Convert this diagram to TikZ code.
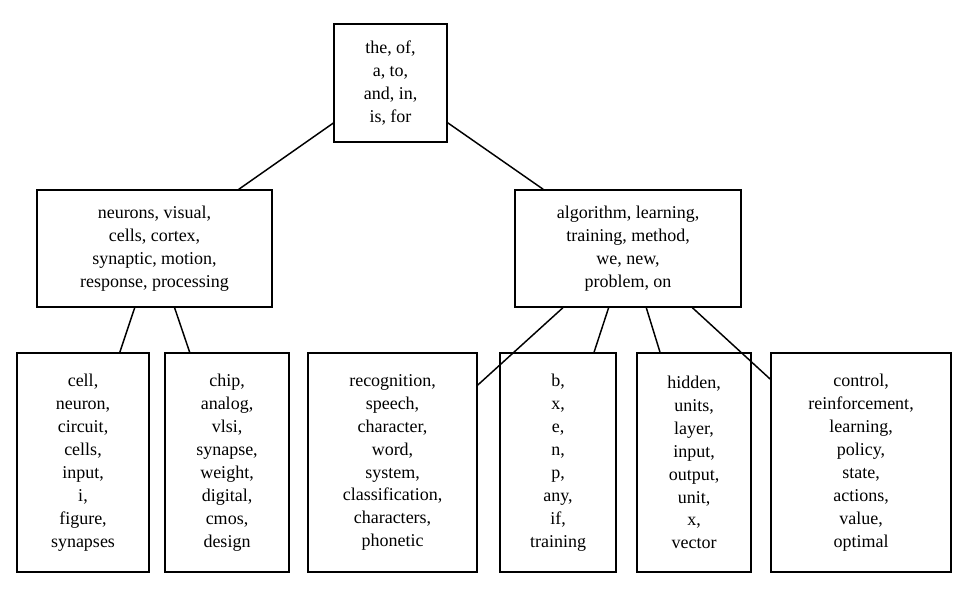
\documentclass[tikz,border=0pt]{standalone}
\usepackage{fontspec}
\setmainfont{Liberation Serif}
\begin{document}
\begin{tikzpicture}[x=0.75pt,y=-0.75pt,
  box/.style={draw,line width=1.1pt,align=center,inner sep=0pt,font=\fontsize{13.5}{17.2}\selectfont},
  edge/.style={line width=1.1pt}]
\useasboundingbox (0,0) rectangle (970,603);
\newcommand\bx[6]{\node[box,minimum width=#4*0.75pt,minimum height=#5*0.75pt] (#1) at (#2,#3) {#6};}
\bx{r}{390.5}{83}{113}{118}{the, of,\\a, to,\\and, in,\\is, for}
\bx{lm}{154.5}{248.5}{235}{117}{neurons, visual,\\cells, cortex,\\synaptic, motion,\\response, processing}
\bx{rm}{628}{248.5}{226}{117}{algorithm, learning,\\training, method,\\we, new,\\problem, on}
\bx{a}{83}{462.5}{132}{219}{cell,\\neuron,\\circuit,\\cells,\\input,\\i,\\figure,\\synapses}
\bx{b}{227}{462.5}{124}{219}{chip,\\analog,\\vlsi,\\synapse,\\weight,\\digital,\\cmos,\\design}
\bx{c}{392.5}{462.5}{169}{219}{recognition,\\speech,\\character,\\word,\\system,\\classification,\\characters,\\phonetic}
\bx{d}{558}{462.5}{116}{219}{b,\\x,\\e,\\n,\\p,\\any,\\if,\\training}
\bx{e}{694}{462.5}{114}{219}{hidden,\\units,\\layer,\\input,\\output,\\unit,\\x,\\vector}
\bx{f}{861}{462.5}{180}{219}{control,\\reinforcement,\\learning,\\policy,\\state,\\actions,\\value,\\optimal}
\draw[edge] (r)--(lm); \draw[edge] (r)--(rm);
\draw[edge] (lm)--(a); \draw[edge] (lm)--(b);
\draw[edge] (rm)--(c); \draw[edge] (rm)--(d); \draw[edge] (rm)--(e); \draw[edge] (rm)--(f);
\end{tikzpicture}
\end{document}
